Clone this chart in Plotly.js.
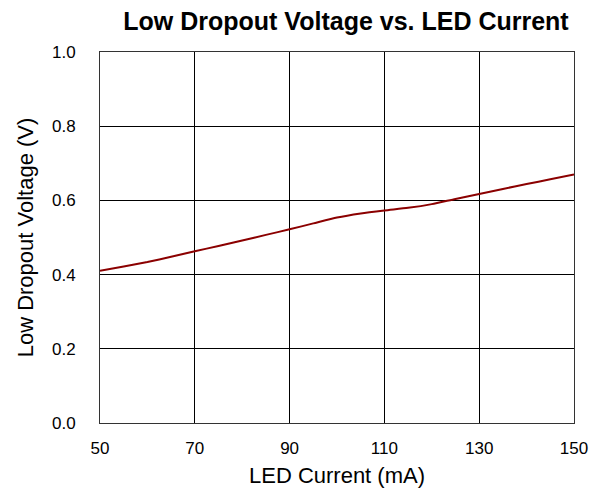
<!DOCTYPE html>
<html>
<head>
<meta charset="utf-8">
<script src="https://cdn.plot.ly/plotly-3.0.1.min.js"></script>
<style>html,body{margin:0;padding:0;background:#fff;}#chart{width:592px;height:498px;}</style>
</head>
<body>
<div id="chart"></div>
<script>
const ledCurrent = [50, 55, 60, 65, 70, 75, 80, 85, 90, 95, 100, 105, 110, 115, 120, 125, 130, 135, 140, 145, 150];
const dropoutVoltage = [0.410, 0.422, 0.434, 0.448, 0.463, 0.477, 0.492, 0.507, 0.522, 0.538, 0.554, 0.565, 0.573, 0.580, 0.590, 0.604, 0.617, 0.631, 0.644, 0.657, 0.670];
const xTicks = [50, 70, 90, 110, 130, 150];
const yTicks = [0.0, 0.2, 0.4, 0.6, 0.8, 1.0];
const yTickLabels = ['0.0', '0.2', '0.4', '0.6', '0.8', '1.0'];

const font = 'Liberation Sans, Arial, sans-serif';
Plotly.newPlot('chart', [{
  x: ledCurrent, y: dropoutVoltage, type: 'scatter', mode: 'lines',
  line: {color: '#8B0000', width: 2, shape: 'spline', smoothing: 0.6},
  hoverinfo: 'skip'
}], {
  width: 592, height: 498,
  margin: {l: 100, r: 18, t: 52, b: 75},
  paper_bgcolor: '#fff', plot_bgcolor: '#fff',
  showlegend: false,
  title: {text: '<b>Low Dropout Voltage vs. LED Current</b>', x: 346/592, xref: 'container', xanchor: 'center', y: 1 - 21/498, yref: 'container', yanchor: 'middle', font: {family: font, size: 25, color: '#000'}},
  xaxis: {
    range: [50, 150], tickvals: xTicks, ticktext: xTicks.map(String),
    showgrid: true, gridcolor: '#000', gridwidth: 1,
    showline: true, linecolor: '#333', linewidth: 1, mirror: true,
    ticks: 'outside', ticklen: 10, tickcolor: 'rgba(0,0,0,0)',
    tickfont: {family: font, size: 17, color: '#000'},
    zeroline: false, fixedrange: true,
    title: {text: 'LED Current (mA)', font: {family: font, size: 22, color: '#000'}, standoff: 10}
  },
  yaxis: {
    range: [0, 1], tickvals: yTicks, ticktext: yTickLabels,
    showgrid: true, gridcolor: '#000', gridwidth: 1,
    showline: true, linecolor: '#333', linewidth: 1, mirror: true,
    ticks: 'outside', ticklen: 20, tickcolor: 'rgba(0,0,0,0)',
    tickfont: {family: font, size: 17, color: '#000'},
    zeroline: false, fixedrange: true,
    title: {text: 'Low Dropout Voltage (V)', font: {family: font, size: 22, color: '#000'}, standoff: 12}
  }
}, {displayModeBar: false, staticPlot: true});
</script>
</body>
</html>
